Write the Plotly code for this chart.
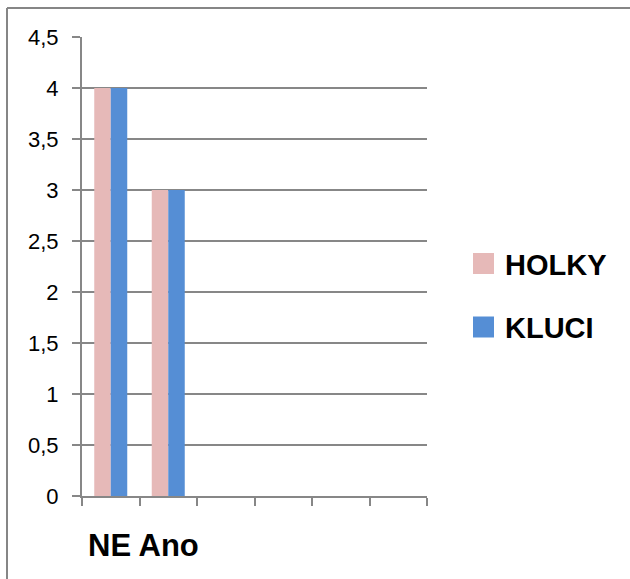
import plotly.graph_objects as go

categories = ["NE", "Ano", " ", "  ", "   ", "    "]
holky = [4, 3, None, None, None, None]
kluci = [4, 3, None, None, None, None]
series_names = ["HOLKY", "KLUCI"]
series_colors = ["#E6B9B8", "#558ED5"]
y_ticks = [0, 0.5, 1, 1.5, 2, 2.5, 3, 3.5, 4, 4.5]

W, H = 630, 579
L, R, T, B = 82, 427, 37, 496  # plot area in px

def px_x(x):
    return (x - L) / (R - L)

def px_y(y):
    return (B - y) / (B - T)

fig = go.Figure()
for name, vals, col in zip(series_names, [holky, kluci], series_colors):
    fig.add_trace(go.Bar(x=categories, y=vals, name=name, marker=dict(color=col, line=dict(width=0)),
                         showlegend=False))

grid = "#878787"
fig.update_layout(
    width=W, height=H,
    margin=dict(l=L, r=W - R, t=T, b=H - B, pad=0, autoexpand=False),
    paper_bgcolor="white", plot_bgcolor="white",
    barmode="group", bargap=0.426, bargroupgap=0,
    separators=", ",
    font=dict(family="Liberation Sans", color="black"),
    xaxis=dict(range=[-0.5, 5.5], type="category", showticklabels=False, automargin=False,
               tickson="boundaries", ticks="outside", ticklen=8, tickwidth=2, tickcolor=grid,
               showline=True, linecolor=grid, linewidth=2, showgrid=False, zeroline=False),
    yaxis=dict(range=[0, 4.5], tickvals=y_ticks, ticks="outside", ticklen=8, tickwidth=2,
               tickcolor=grid, showline=True, linecolor=grid, linewidth=2, automargin=False,
               showgrid=True, gridcolor=grid, gridwidth=2, zeroline=False,
               tickfont=dict(size=22, family="Liberation Sans", color="black"),
               ticklabelstandoff=9),
)

# outer chart border (top and left visible)
fig.add_shape(type="line", xref="paper", yref="paper", x0=px_x(7), x1=px_x(632), y0=px_y(8), y1=px_y(8),
              line=dict(color="#868686", width=2))
fig.add_shape(type="line", xref="paper", yref="paper", x0=px_x(7), x1=px_x(7), y0=px_y(8), y1=px_y(581),
              line=dict(color="#868686", width=2))

# category caption
fig.add_annotation(text=" ".join(categories[:2]), xref="paper", yref="paper", x=px_x(86), y=px_y(545),
                   xanchor="left", yanchor="middle", showarrow=False,
                   font=dict(size=31, family="Liberation Sans", color="black", weight="bold"))

# legend
for i, (name, col) in enumerate(zip(series_names, series_colors)):
    cy = 263.5 + i * 63.5
    fig.add_shape(type="rect", xref="paper", yref="paper", x0=px_x(473), x1=px_x(494),
                  y0=px_y(cy - 10.5), y1=px_y(cy + 10.5), fillcolor=col, line=dict(width=0))
    fig.add_annotation(text=name, xref="paper", yref="paper", x=px_x(503), y=px_y(cy + 1),
                       xanchor="left", yanchor="middle", showarrow=False,
                       font=dict(size=29, family="Liberation Sans", color="black", weight="bold"))

fig.write_html("out.html", config={"displayModeBar": False},
               post_script="document.body.style.margin='0';document.body.style.overflow='hidden';")
